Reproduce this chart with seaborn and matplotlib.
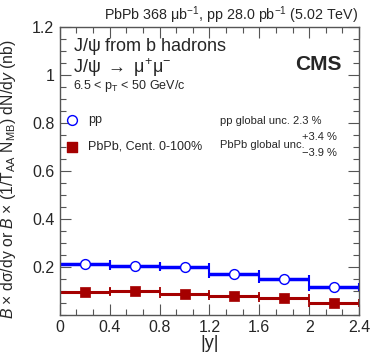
import numpy as np
import pandas as pd
import matplotlib
matplotlib.use('Agg')
import matplotlib.pyplot as plt
from matplotlib.ticker import MultipleLocator
import seaborn as sns

# Data
bin_lo = [0.0, 0.4, 0.8, 1.2, 1.6, 2.0]
bin_hi = [0.4, 0.8, 1.2, 1.6, 2.0, 2.4]
pp_vals = [0.211, 0.205, 0.201, 0.172, 0.148, 0.117]
pbpb_vals = [0.095, 0.099, 0.087, 0.078, 0.070, 0.049]

centers = [(a + b) / 2 for a, b in zip(bin_lo, bin_hi)]
half_w = [(b - a) / 2 for a, b in zip(bin_lo, bin_hi)]

df = pd.DataFrame({
    'y': centers * 2,
    'val': pp_vals + pbpb_vals,
    'sample': ['pp'] * 6 + ['PbPb'] * 6,
})

sns.set_style('ticks')
plt.rcParams['font.family'] = ['Liberation Sans', 'DejaVu Sans']
plt.rcParams['mathtext.fontset'] = 'custom'
plt.rcParams['mathtext.rm'] = 'Liberation Sans'
plt.rcParams['mathtext.it'] = 'Liberation Sans:italic'
plt.rcParams['mathtext.bf'] = 'Liberation Sans:bold'

blue = '#0000ff'
red = '#a50000'

fig = plt.figure(figsize=(3.74, 3.59), dpi=100)
ax = fig.add_axes([0.160, 0.123, 0.800, 0.802])

# horizontal bin-width bars with caps
ax.errorbar(centers, pp_vals, xerr=half_w, fmt='none', ecolor=blue,
            elinewidth=2.5, capsize=3, capthick=1.5, zorder=2)
ax.errorbar(centers, pbpb_vals, xerr=half_w, fmt='none', ecolor=red,
            elinewidth=2.2, capsize=3, capthick=1.3, zorder=2)

sns.scatterplot(data=df[df['sample'] == 'pp'], x='y', y='val', ax=ax,
                marker='o', s=50, facecolor='white', edgecolor=blue,
                linewidth=1.0, zorder=3, legend=False)
sns.scatterplot(data=df[df['sample'] == 'PbPb'], x='y', y='val', ax=ax,
                marker='s', s=50, color=red, edgecolor=red,
                linewidth=0.5, zorder=3, legend=False)

ax.set_xlim(0, 2.4)
ax.set_ylim(0, 1.2)
ax.xaxis.set_minor_locator(MultipleLocator(0.4 / 3))
ax.yaxis.set_minor_locator(MultipleLocator(0.05))
ax.set_xticks([0, 0.4, 0.8, 1.2, 1.6, 2.0, 2.4])
ax.set_xticklabels(['0', '0.4', '0.8', '1.2', '1.6', '2', '2.4'])
ax.set_yticks([0.2, 0.4, 0.6, 0.8, 1.0, 1.2])
ax.set_yticklabels(['0.2', '0.4', '0.6', '0.8', '1', '1.2'])
ax.tick_params(which='both', direction='in', top=True, right=True,
               labelsize=11.5, color='#555555', pad=4)
ax.tick_params(which='major', length=8, width=0.8)
ax.tick_params(which='minor', length=4, width=0.8)
for sp in ax.spines.values():
    sp.set_color('#555555')
    sp.set_linewidth(1.0)

ax.set_xlabel('|y|', fontsize=13, labelpad=0)
ax.set_ylabel(r'$\mathit{B}$ × d$\mathrm{\sigma}$/dy or $\mathit{B}$ × (1/T$_{\rm AA}$ N$_{\rm MB}$) dN/d$y$ (nb)',
              fontsize=11.3)
ax.yaxis.set_label_coords(-0.14, 0.47)

fig.text(0.957, 0.958, r'PbPb 368 $\mathrm{\mu}$b$^{-1}$, pp 28.0 pb$^{-1}$ (5.02 TeV)',
         ha='right', va='center', fontsize=10.3)
ax.text(0.045, 0.932, r'J/$\mathrm{\psi}$ from b hadrons', transform=ax.transAxes,
        fontsize=13, va='center')
ax.text(0.045, 0.858, r'J/$\mathrm{\psi}$ $\rightarrow$ $\mathrm{\mu^{+}\mu^{-}}$',
        transform=ax.transAxes, fontsize=13, va='center')
ax.text(0.045, 0.795, r'6.5 < p$_{\rm T}$ < 50 GeV/c', transform=ax.transAxes,
        fontsize=9, va='center')
ax.text(0.943, 0.868, 'CMS', transform=ax.transAxes, fontsize=15,
        fontweight='bold', ha='right', va='center')

# legend entries
ax.scatter([0.04], [0.677], marker='o', s=50, facecolor='white',
           edgecolor=blue, linewidth=1.0, transform=ax.transAxes)
ax.text(0.094, 0.677, 'pp', transform=ax.transAxes, fontsize=9, va='center')
ax.scatter([0.04], [0.583], marker='s', s=45, color=red,
           transform=ax.transAxes)
ax.text(0.094, 0.583, 'PbPb, Cent. 0-100%', transform=ax.transAxes,
        fontsize=9, va='center')

ax.text(0.535, 0.674, 'pp global unc. 2.3 %', transform=ax.transAxes,
        fontsize=8, va='center')
ax.text(0.535, 0.59, 'PbPb global unc.', transform=ax.transAxes,
        fontsize=8, va='center')
ax.text(0.81, 0.618, '+3.4 %', transform=ax.transAxes, fontsize=8, va='center')
ax.text(0.81, 0.562, '−3.9 %', transform=ax.transAxes, fontsize=8, va='center')

fig.savefig('out.png', dpi=100)
